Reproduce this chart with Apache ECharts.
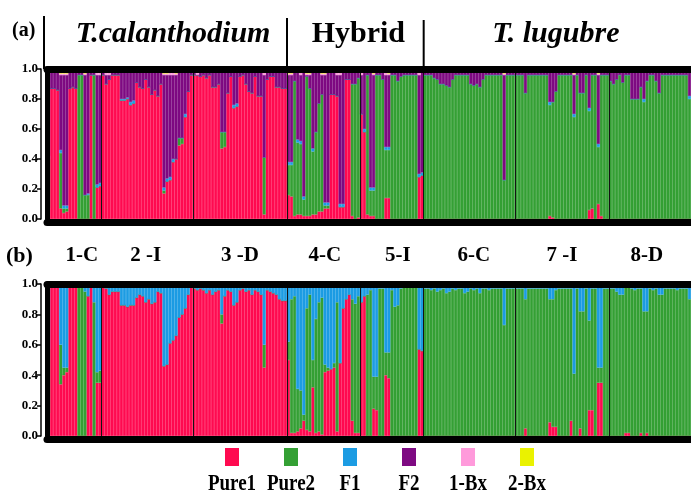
<!DOCTYPE html>
<html><head><meta charset="utf-8">
<script src="https://cdn.jsdelivr.net/npm/echarts@6/dist/echarts.min.js"></script>
<style>html,body{margin:0;padding:0;background:#fff}#c{width:691px;height:500px}</style>
</head><body><div id="c"></div>
<script>
// ---------- populations / layout of individuals ----------
const populations = ['1-C','2-I','3-D','4-C','5-I','6-C','7-I','8-D'];
const popLabels   = ['1-C','2 -I','3 -D','4-C','5-I','6-C','7 -I','8-D'];
const popSizes    = [18,30,31,24,21,30,31,27];
const popLabelAt  = [11,32,63,91,115,140,169,197];
const species       = ['T.calanthodium','Hybrid','T. lugubre'];
const speciesItalic = [true,false,true];
const speciesFirstPop = [0,3,5];
const speciesLabelAt  = [41,102,167];
const yTicks = [0,0.2,0.4,0.6,0.8,1.0];

const seriesNames  = ['Pure1','Pure2','F1','F2','1-Bx','2-Bx'];
const seriesColors = ['#FF0A50','#34A034','#1C9CE3','#7E0A82','#FF9ADB','#EAF200'];

// ---------- panel (a): six classes ----------
const pure1A = [
 .07,.87,.87,.86,.07,.04,.05,.87,.88,.87,0,0,0,0,.96,0,.21,.22,
 .96,.90,.93,.96,.96,.96,.79,.79,.80,.76,.77,.91,.88,.87,.93,.88,.83,.86,.82,.90,.17,.25,.26,.38,.40,.49,.50,.68,.85,.96,
 .96,.96,.95,.96,.94,.96,.88,.88,.90,.47,.48,.84,.95,.74,.75,.95,.96,.90,.85,.84,.95,.82,.82,.03,.93,.95,.95,.88,.88,.87,.87,
 .16,.15,.02,.03,.03,.02,.02,.02,.03,.03,.05,.05,.07,.07,.83,.83,.82,.08,.08,.93,.93,.02,0,.01,
 .70,.58,.03,.02,.02,0,0,0,.14,.14,0,0,0,0,0,0,0,0,0,.28,.29,
 0,0,0,0,0,0,0,0,0,0,0,0,0,0,0,0,0,0,0,0,0,0,0,0,0,0,0,0,0,0,
 0,0,0,0,0,0,0,0,0,0,0,.02,.01,0,0,0,0,0,0,0,0,0,0,0,.06,.07,0,.10,.02,0,0,
 0,0,0,0,0,0,0,0,0,0,0,0,0,0,0,0,0,0,0,0,0,0,0,0,0,0,0
];
const pure2A = [
 .33,0,0,0,.37,.03,.02,0,0,0,.96,.96,.16,.16,0,.96,0,0,
 0,0,0,0,0,0,0,0,0,0,0,0,0,0,0,0,0,0,0,0,.02,0,0,0,0,.05,.04,0,0,0,
 0,0,0,0,0,0,0,0,0,.11,.10,0,0,0,0,0,0,0,0,0,0,0,0,.38,0,0,0,0,0,0,0,
 .20,.21,.90,.48,.47,.11,.93,.85,.42,.55,.72,.78,.02,.02,0,0,0,0,0,0,0,.88,.90,.93,
 0,0,.93,.17,.17,.96,.96,.93,.32,.32,.96,.96,.92,.95,.96,.96,.96,.96,.96,0,0,
 .96,.96,.96,.94,.93,.90,.90,.89,.88,.93,.96,.96,.96,.96,.96,.90,.89,.90,.88,.93,.96,.96,.96,.96,.96,.96,.26,.96,.96,.96,
 .96,.96,.96,.84,.96,.96,.96,.96,.96,.96,.96,.74,.77,.85,.96,.96,.96,.96,.96,.68,.96,.84,.84,.96,.66,.89,.96,.38,.94,.96,.96,
 .92,.90,.93,.96,.91,.96,.96,.80,.80,.80,.88,.78,.92,.96,.96,.92,.84,.96,.96,.96,.96,.96,.96,.96,.96,.96,.80
];
const f1A = [
 .02,0,0,0,.02,.02,.02,0,0,0,0,0,0,.01,0,0,.02,.02,
 0,0,0,0,0,0,.01,.01,.01,.02,.02,0,0,0,0,0,0,0,0,0,.02,.02,.02,.02,0,0,0,.02,0,0,
 0,0,0,0,0,0,0,0,0,0,0,0,0,.02,.02,0,0,0,0,0,0,0,0,0,0,0,0,0,0,0,0,
 .02,.02,0,.02,.02,.02,0,0,.02,0,0,0,.02,.02,0,0,0,.02,.02,0,0,0,0,0,
 0,.02,0,.02,.02,0,0,0,.02,.02,0,0,0,0,0,0,0,0,0,.02,.02,
 0,0,0,0,0,0,0,0,0,0,0,0,0,0,0,0,0,0,0,0,0,0,0,0,0,0,0,0,0,0,
 0,0,0,0,0,0,0,0,0,0,0,.02,0,0,0,0,0,0,0,.02,0,0,0,0,.02,0,0,.02,0,0,0,
 0,0,0,0,0,0,0,0,0,0,0,.02,0,0,0,0,0,0,0,0,0,0,0,0,0,0,.02
];
const f2A = [
 .55,.11,.11,.12,.50,.87,.87,.11,.10,.11,.02,.02,.80,.81,.02,.02,.73,.72,
 .02,.06,.03,.02,.02,.02,.18,.18,.17,.20,.19,.07,.10,.11,.05,.10,.15,.12,.16,.08,.75,.69,.68,.56,.56,.44,.44,.28,.13,.02,
 .02,0,.03,.02,.04,.02,.10,.10,.08,.40,.40,.14,.03,.22,.21,.03,.02,.08,.13,.14,.03,.16,.16,.55,.05,.03,.03,.10,.10,.11,.11,
 .58,.58,.06,.45,.44,.83,.01,.09,.51,.40,.21,.13,.85,.87,.15,.15,.14,.86,.88,.05,.05,.08,.08,.04,
 .26,.38,.02,.77,.75,.02,.02,.05,.48,.48,.02,.02,.06,.03,.02,.02,.02,.02,.02,.66,.67,
 .02,.02,.02,.04,.05,.08,.08,.09,.10,.05,.02,.02,.02,.02,.02,.08,.09,.08,.10,.05,.02,.02,.02,.02,.02,.02,.70,.02,.02,.02,
 .02,.02,.02,.14,.02,.02,.02,.02,.02,.02,.02,.20,.20,.13,.02,.02,.02,.02,.02,.26,.02,.14,.14,.02,.24,.02,.02,.46,.02,.02,.02,
 .06,.08,.05,.02,.07,.02,.02,.18,.18,.18,.10,.18,.06,.02,.02,.06,.14,.02,.02,.02,.02,.02,.02,.02,.02,.02,.16
];
const bx1A = [
 .02,.01,.01,.01,.01,.01,.01,.01,.01,.01,.01,.01,.01,.01,.01,.01,.03,.03,
 .01,.03,.03,.01,.01,.01,.01,.01,.01,.01,.01,.01,.01,.01,.01,.01,.01,.01,.01,.01,.01,.01,.03,.03,.01,.01,.01,.01,.01,.01,
 .01,.03,.01,.01,.01,.01,.01,.01,.01,.01,.01,.01,.01,.01,.01,.01,.01,.01,.01,.01,.01,.01,.01,.03,.01,.01,.01,.01,.01,.01,.01,
 .01,.01,.01,.01,.03,.01,.01,.01,.01,.01,.01,.01,.01,.01,.01,.01,.03,.03,.01,.01,.01,.01,.01,.01,
 .03,.01,.01,.01,.01,.01,.01,.01,.03,.01,.01,.01,.01,.01,.01,.01,.01,.01,.01,.03,.01,
 .01,.01,.01,.01,.01,.01,.01,.01,.01,.01,.01,.01,.01,.01,.01,.01,.01,.01,.01,.01,.01,.01,.01,.01,.01,.01,.01,.01,.01,.01,
 .01,.01,.01,.01,.01,.01,.01,.01,.01,.01,.01,.01,.01,.01,.01,.01,.01,.01,.01,.01,.01,.01,.01,.01,.01,.01,.01,.01,.01,.01,.01,
 .01,.01,.01,.01,.01,.01,.01,.01,.01,.01,.01,.01,.01,.01,.01,.01,.01,.01,.01,.01,.01,.01,.01,.01,.01,.01,.01
];
const bx2A = [
 .01,.01,.01,.01,.03,.03,.03,.01,.01,.01,.01,.01,.03,.01,.01,.01,.01,.01,
 .01,.01,.01,.01,.01,.01,.01,.01,.01,.01,.01,.01,.01,.01,.01,.01,.01,.01,.01,.01,.03,.03,.01,.01,.03,.01,.01,.01,.01,.01,
 .01,.01,.01,.01,.01,.01,.01,.01,.01,.01,.01,.01,.01,.01,.01,.01,.01,.01,.01,.01,.01,.01,.01,.01,.01,.01,.01,.01,.01,.01,.01,
 .03,.03,.01,.01,.01,.01,.03,.03,.01,.01,.01,.03,.03,.01,.01,.01,.01,.01,.01,.01,.01,.01,.01,.01,
 .01,.01,.01,.01,.03,.01,.01,.01,.01,.03,.01,.01,.01,.01,.01,.01,.01,.01,.01,.01,.01,
 .01,.01,.01,.01,.01,.01,.01,.01,.01,.01,.01,.01,.01,.01,.01,.01,.01,.01,.01,.01,.01,.01,.01,.01,.01,.01,.03,.01,.01,.01,
 .01,.01,.01,.01,.01,.01,.01,.01,.01,.01,.01,.01,.01,.01,.01,.01,.01,.01,.01,.03,.01,.01,.01,.01,.01,.01,.01,.03,.01,.01,.01,
 .01,.01,.01,.01,.01,.01,.01,.01,.01,.01,.01,.01,.01,.01,.01,.01,.01,.01,.01,.01,.01,.01,.01,.01,.01,.01,.01
];

// ---------- panel (b): three classes ----------
const pure1B = [
 .15,1,1,1,.34,.40,.42,1,1,1,0,0,0,.92,1,0,.35,.35,
 1,.97,.93,.95,.95,.95,.86,.86,.85,.86,.86,.91,.93,.92,.88,.90,.87,.88,.95,.94,.46,.47,.61,.63,.66,.78,.80,.84,.93,1,
 .97,.96,.97,.96,.94,.96,.93,.95,.96,.74,.92,.96,.95,.86,.88,.96,.97,.95,.96,.93,.96,.95,.93,.45,.96,.95,.94,.93,.90,.89,.89,
 .50,.02,.02,.03,.05,.10,.04,.03,.32,.02,.03,.01,.42,.43,.44,.45,.03,.48,.84,.90,.93,.10,.02,.02,
 .88,.92,0,0,.18,.17,0,0,.40,.38,0,0,0,0,0,0,0,0,0,.57,.56,
 0,0,0,0,0,0,0,0,0,0,0,0,0,0,0,0,0,0,0,0,0,0,0,0,0,0,0,0,0,0,
 0,0,0,.05,0,0,0,0,0,0,0,.09,.06,.06,0,0,0,0,.10,0,0,.05,0,0,.17,.17,0,.35,.35,0,0,
 0,0,0,0,0,.02,.02,0,0,0,.02,0,.02,0,0,0,0,0,0,0,0,0,0,0,0,0,0
];
const pure2B = [
 .42,0,0,0,.26,.05,.03,0,0,0,1,1,.95,0,0,.88,.07,.08,
 0,0,0,0,0,0,0,0,0,0,0,0,0,0,0,0,0,0,0,0,0,0,0,0,0,0,0,0,0,0,
 0,0,0,0,0,0,0,0,0,.06,0,0,0,0,0,0,0,0,0,0,0,0,0,.15,0,0,0,0,0,0,0,
 .12,.88,.90,.28,.25,.04,.80,.90,.18,.75,.85,.90,.05,.02,0,.03,.85,0,0,0,0,.80,.85,.90,
 0,0,.93,.96,.21,.22,.97,.97,.15,.17,.96,.85,.86,.97,.98,.98,.98,.98,.98,0,0,
 .97,.97,.96,.97,.95,.96,.97,.94,.95,.97,.96,.97,.97,.94,.95,.97,.96,.97,.94,.97,.97,.96,.97,.97,.97,.97,.73,.97,.97,.97,
 .97,.97,.97,.85,.97,.97,.97,.97,.97,.97,.97,.81,.84,.90,.97,.97,.97,.97,.87,.41,.97,.77,.82,.97,.59,.80,.97,.10,.10,.97,.97,
 .97,.97,.95,.93,.93,.96,.97,.97,.96,.97,.95,.82,.80,.97,.96,.97,.93,.93,.97,.97,.97,.97,.96,.97,.97,.97,.90
];
const f1B = [
 .43,0,0,0,.40,.55,.55,0,0,0,0,0,.05,.08,0,.12,.58,.57,
 0,.03,.07,.05,.05,.05,.14,.14,.15,.14,.14,.09,.07,.08,.12,.10,.13,.12,.05,.06,.54,.53,.39,.37,.34,.22,.20,.16,.07,0,
 .03,.04,.03,.04,.06,.04,.07,.05,.04,.20,.08,.04,.05,.14,.12,.04,.03,.05,.04,.07,.04,.05,.07,.40,.04,.05,.06,.07,.10,.11,.11,
 .38,.10,.08,.69,.70,.86,.16,.07,.50,.23,.12,.09,.53,.55,.56,.52,.12,.52,.16,.10,.07,.10,.13,.08,
 .12,.08,.07,.04,.61,.61,.03,.03,.45,.45,.04,.15,.14,.03,.02,.02,.02,.02,.02,.43,.44,
 .03,.03,.04,.03,.05,.04,.03,.06,.05,.03,.04,.03,.03,.06,.05,.03,.04,.03,.06,.03,.03,.04,.03,.03,.03,.03,.27,.03,.03,.03,
 .03,.03,.03,.10,.03,.03,.03,.03,.03,.03,.03,.10,.10,.04,.03,.03,.03,.03,.03,.59,.03,.18,.18,.03,.24,.03,.03,.55,.55,.03,.03,
 .03,.03,.05,.07,.07,.02,.01,.03,.04,.03,.03,.18,.18,.03,.04,.03,.07,.07,.03,.03,.03,.03,.04,.03,.03,.03,.10
];

// ---------- build ----------
const categories = [];
const popStart = [];
populations.forEach((p, g) => { popStart.push(categories.length); for (let k = 0; k < popSizes[g]; k++) categories.push(p + '_' + (k + 1)); });
const popBoundaries = new Set(popStart.slice(1));
const speciesStarts = speciesFirstPop.map(g => popStart[g]);

const serif = '"Liberation Serif","Times New Roman",serif';

function bottomX(gi) {
  return {type:'category', gridIndex:gi, data:categories, position:'bottom', offset:3, z:10,
    boundaryGap:true,
    axisLine:{show:true, onZero:false, lineStyle:{color:'#000', width:7}},
    axisTick:{show:false}, axisLabel:{show:false},
    splitLine:{show:true, interval:(i) => popBoundaries.has(i), lineStyle:{color:'#141414', width:1}}};
}
function dataY(gi) {
  return {type:'value', gridIndex:gi, min:0, max:1, z:10,
    axisLine:{show:true, onZero:false, lineStyle:{color:'#000', width:5}},
    axisTick:{show:false}, axisLabel:{show:false}, splitLine:{show:false}};
}
function labelY(gi) {
  return {type:'value', gridIndex:gi, min:yTicks[0], max:yTicks[yTicks.length-1], interval:0.2, position:'left', offset:6,
    axisLine:{show:true, onZero:false, lineStyle:{color:'#000', width:1.5}},
    axisTick:{show:true, length:4, lineStyle:{color:'#000', width:1.5}},
    axisLabel:{show:true, margin:3, formatter:(v) => v.toFixed(1), fontFamily:serif, fontWeight:'bold', fontSize:13, color:'#000'},
    splitLine:{show:false}};
}

const option = {
  animation:false,
  backgroundColor:'#fff',
  grid:[
    {left:47, right:0, top:69, height:150},
    {left:47, right:0, top:284, height:152}
  ],
  xAxis:[
    bottomX(0),
    {type:'category', gridIndex:0, data:categories, position:'top', z:10, boundaryGap:true,
     axisLine:{show:true, onZero:false, lineStyle:{color:'#000', width:7}},
     axisTick:{show:false},
     axisLabel:{show:true, interval:(i) => speciesLabelAt.includes(i), margin:20,
       formatter:(v, i) => { const s = speciesLabelAt.indexOf(i); return s < 0 ? '' : (speciesItalic[s] ? '{it|' : '{rm|') + species[s] + '}'; },
       rich:{
         it:{fontFamily:serif, fontStyle:'italic', fontWeight:'bold', fontSize:30, color:'#000'},
         rm:{fontFamily:serif, fontWeight:'bold', fontSize:30, color:'#000'}
       }},
     splitLine:{show:false}},
    bottomX(1),
    {type:'category', gridIndex:1, data:categories, position:'top', z:10, boundaryGap:true,
     axisLine:{show:true, onZero:false, lineStyle:{color:'#000', width:7}},
     axisTick:{show:false},
     axisLabel:{show:true, interval:(i) => popLabelAt.includes(i), margin:18,
       formatter:(v, i) => { const g = popLabelAt.indexOf(i); return g < 0 ? '' : popLabels[g]; },
       fontFamily:serif, fontWeight:'bold', fontSize:21, color:'#000'},
     splitLine:{show:false}}
  ],
  yAxis:[dataY(0), labelY(0), dataY(1), labelY(1)],
  series:[],
  graphic:[]
};

const dataA = [pure1A, pure2A, f1A, f2A, bx1A, bx2A];
const dataB = [pure1B, pure2B, f1B];
dataA.forEach((d, s) => option.series.push({type:'bar', name:seriesNames[s], xAxisIndex:0, yAxisIndex:0, stack:'a',
  data:d, barCategoryGap:'0%', barGap:'0%', itemStyle:{color:seriesColors[s], borderColor:seriesColors[s], borderWidth:0.4}, silent:true}));
dataB.forEach((d, s) => option.series.push({type:'bar', name:seriesNames[s], xAxisIndex:2, yAxisIndex:2, stack:'b',
  data:d, barCategoryGap:'0%', barGap:'0%', itemStyle:{color:seriesColors[s], borderColor:seriesColors[s], borderWidth:0.4}, silent:true}));

// panel tags
option.graphic.push({type:'text', id:'tagA', x:12, y:21, style:{text:'(a)', font:'bold 20px ' + serif, fill:'#000'}});
option.graphic.push({type:'text', id:'tagB', x:6, y:245, style:{text:'(b)', font:'bold 22px ' + serif, fill:'#000'}});
// legend (swatch above name)
seriesNames.forEach((n, i) => {
  const cx = 232 + i * 59;
  option.graphic.push({type:'rect', id:'lr' + i, shape:{x:cx - 7, y:448, width:14, height:18}, style:{fill:seriesColors[i]}});
  option.graphic.push({type:'text', id:'lt' + i, x:cx, y:472, scaleY:1.25, style:{text:n, font:'bold 19px ' + serif, fill:'#000', align:'center', verticalAlign:'top'}});
});

const chart = echarts.init(document.getElementById('c'));
chart.setOption(option);

// species separators in the header, placed at population boundaries
const p0 = chart.convertToPixel({xAxisIndex:1}, categories[0]);
const p1 = chart.convertToPixel({xAxisIndex:1}, categories[1]);
const band = p1 - p0;
const topY = chart.convertToPixel({yAxisIndex:0}, 1);
const seps = speciesStarts.map((idx, k) => {
  let x = chart.convertToPixel({xAxisIndex:1}, categories[idx]) - band / 2;
  if (idx === 0) x -= 3;
  return {type:'line', id:'sep' + k, z:20, shape:{x1:x, y1:16 + k * 2, x2:x, y2:topY}, style:{stroke:'#000', lineWidth:2}};
});
chart.setOption({graphic: seps});
</script>
</body></html>
